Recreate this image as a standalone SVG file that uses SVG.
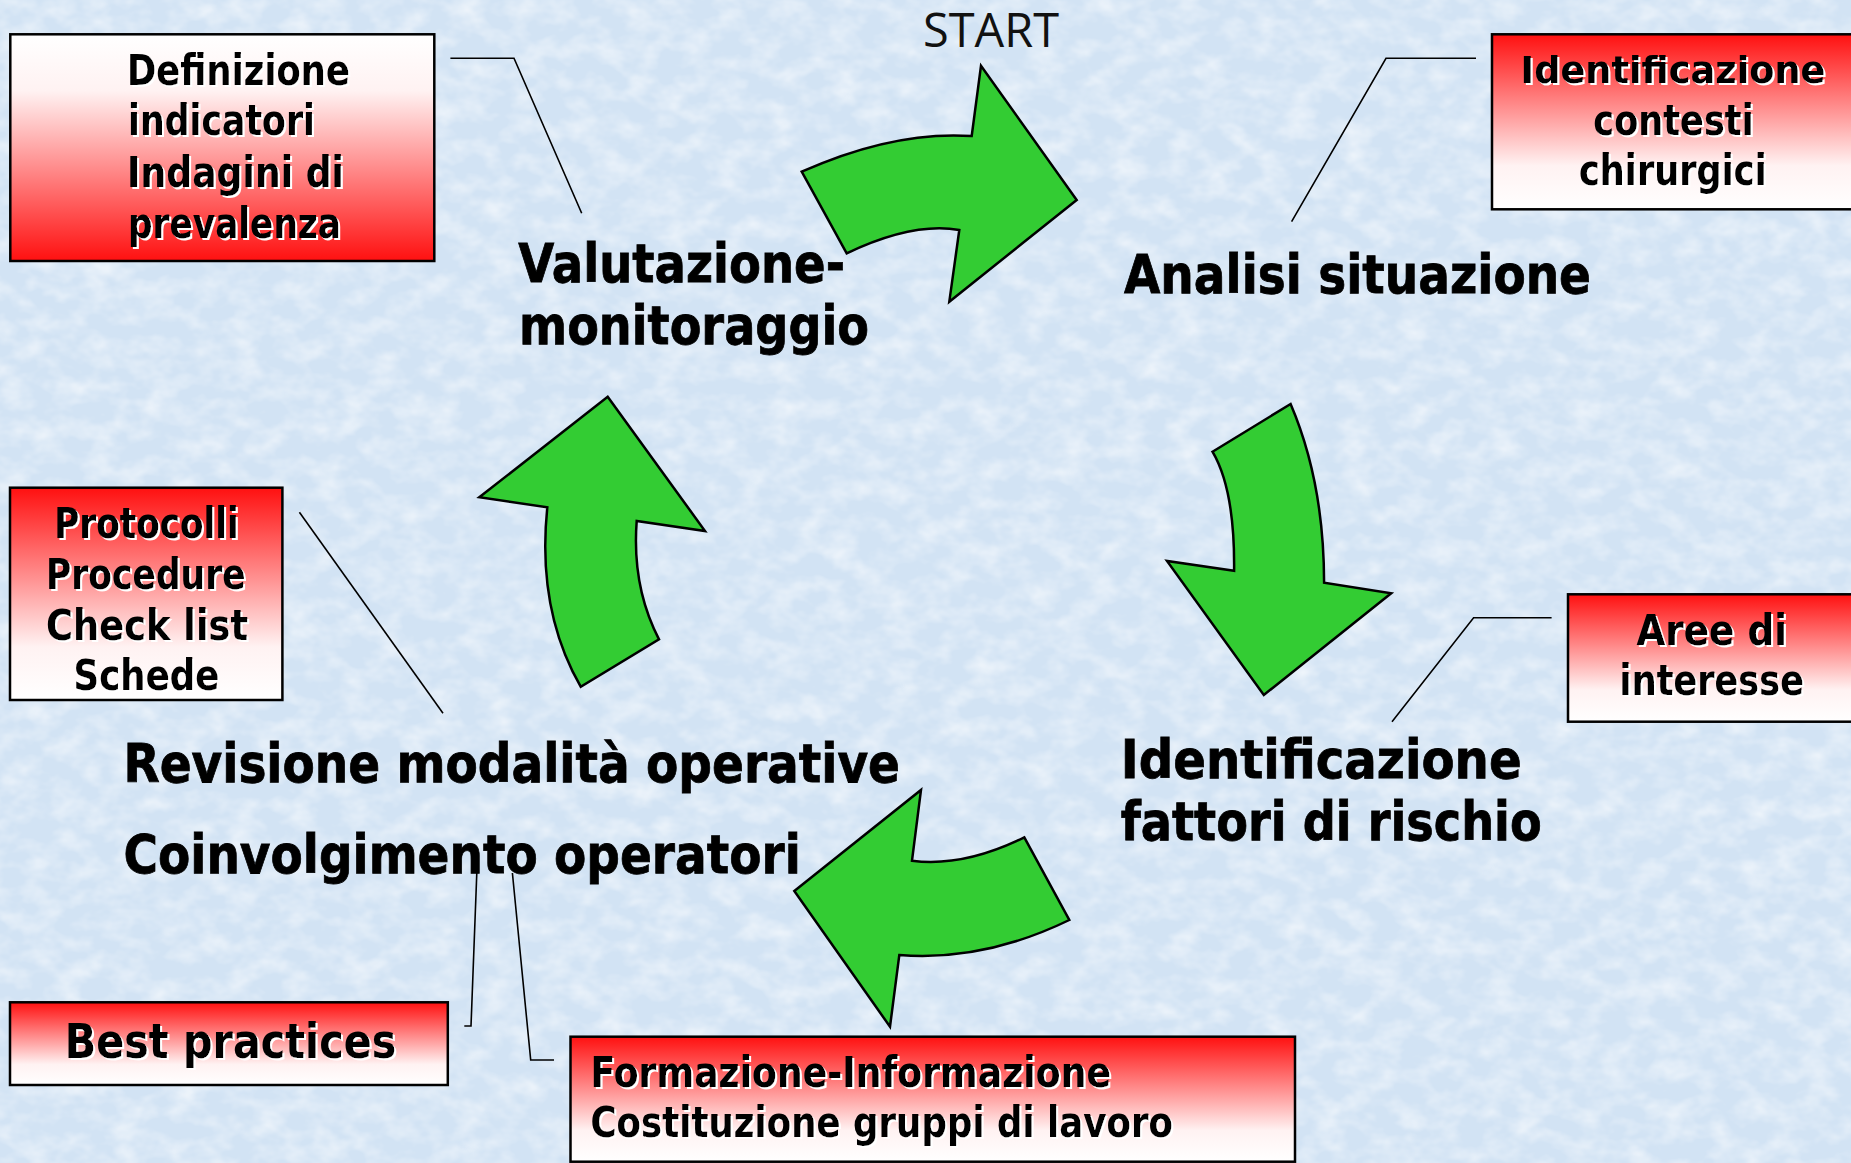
<svg xmlns="http://www.w3.org/2000/svg" width="1851" height="1163" viewBox="0 0 1851 1163">
<defs>
<linearGradient id="gWR" x1="0" y1="0" x2="0" y2="1"><stop offset="0" stop-color="#ffffff"/><stop offset="0.25" stop-color="#fff2f2"/><stop offset="1" stop-color="#ff1010"/></linearGradient>
<linearGradient id="gRW" x1="0" y1="0" x2="0" y2="1"><stop offset="0" stop-color="#ff1010"/><stop offset="0.75" stop-color="#fff2f2"/><stop offset="1" stop-color="#ffffff"/></linearGradient>
<filter id="marble" x="0" y="0" width="100%" height="100%">
<feTurbulence type="fractalNoise" baseFrequency="0.035 0.05" numOctaves="3" seed="7"/>
<feColorMatrix type="matrix" values="0 0 0 0 1  0 0 0 0 1  0 0 0 0 1  1.1 0 0 0 -0.42"/>
</filter>
<filter id="halo" x="-5%" y="-20%" width="110%" height="140%">
<feDropShadow dx="2" dy="2" stdDeviation="0.4" flood-color="#ffffff" flood-opacity="1"/>
</filter>
<style>
.box{stroke:#000;stroke-width:2.5}
.bt{font-family:"DejaVu Sans",sans-serif;font-weight:bold;font-size:43px;fill:#000;filter:url(#halo)}
.lbl{font-family:"DejaVu Sans",sans-serif;font-weight:bold;font-size:53px;fill:#000;stroke:#000;stroke-width:0.8}
.arrow{fill:#33cc33;stroke:#000;stroke-width:2.5;stroke-linejoin:miter}
.conn{fill:none;stroke:#000;stroke-width:1.6}
</style>
</defs>
<rect x="0" y="0" width="1851" height="1163" fill="#d2e3f4"/>
<rect x="0" y="0" width="1851" height="1163" filter="url(#marble)"/>

<g id="connectors">
<polyline class="conn" points="450.4,58.3 514,58.3 581.7,213.3"/>
<polyline class="conn" points="1476,58.3 1386,58.3 1291.6,221.7"/>
<polyline class="conn" points="299.4,512.3 443,713.3"/>
<polyline class="conn" points="1551.6,617.7 1473.6,617.7 1392,721.7"/>
<polyline class="conn" points="476.8,873 471,1026 464.3,1026"/>
<polyline class="conn" points="512.4,873 530.7,1060 554,1060"/>
</g>

<g id="arrows">
<path id="arrow-top" class="arrow" d="M 801.7,171.7 Q 893.3,130.7 971.7,136 L 981,65.7 L 1076.7,200 L 949.3,301.7 L 959.3,230 Q 913.3,221.7 846.7,253.3 Z"/>
<path id="arrow-right" class="arrow" d="M 1212.5,451.7 L 1290.6,404 Q 1324,482 1324.1,582.7 L 1391.2,593.3 L 1263.8,695 L 1167,561 L 1234.1,570.7 Q 1235,490 1212.5,451.7 Z"/>
<path id="arrow-bottom" class="arrow" d="M 1024.3,837.3 L 1069.3,920 Q 983.3,961.7 899.3,955 L 890,1026.7 L 794.3,891 L 921,790 L 912,860.7 Q 963.3,867.3 1024.3,837.3 Z"/>
<path id="arrow-left" class="arrow" d="M 607.7,396.7 L 705,531 L 636.7,521 Q 631.7,586.7 659,639.3 L 580.7,686.7 Q 536.7,610 547.3,507.3 L 479.3,497.3 Z"/>
</g>

<g id="start">
<text x="923" y="47" font-family="Open Sans, sans-serif" font-size="47" fill="#111" textLength="136" lengthAdjust="spacingAndGlyphs">START</text>
</g>

<g id="step-valutazione">
<text class="lbl" x="518.3" y="281.7" textLength="326.7" lengthAdjust="spacingAndGlyphs">Valutazione-</text>
<text class="lbl" x="519" y="344" textLength="350" lengthAdjust="spacingAndGlyphs">monitoraggio</text>
</g>
<g id="step-analisi">
<text class="lbl" x="1124" y="293" textLength="467" lengthAdjust="spacingAndGlyphs">Analisi situazione</text>
</g>
<g id="step-identificazione">
<text class="lbl" x="1120.7" y="778.3" textLength="401" lengthAdjust="spacingAndGlyphs">Identificazione</text>
<text class="lbl" x="1120.7" y="840" textLength="421" lengthAdjust="spacingAndGlyphs">fattori di rischio</text>
</g>
<g id="step-revisione">
<text class="lbl" x="123.5" y="781.7" textLength="776.5" lengthAdjust="spacingAndGlyphs">Revisione modalità operative</text>
<text class="lbl" x="123.5" y="873.3" textLength="677.3" lengthAdjust="spacingAndGlyphs">Coinvolgimento operatori</text>
</g>

<g id="box-definizione">
<rect class="box" x="10.3" y="34.3" width="424" height="226.7" fill="url(#gWR)"/>
<text class="bt" x="127" y="85" textLength="223" lengthAdjust="spacingAndGlyphs">Definizione</text>
<text class="bt" x="128" y="135" textLength="187" lengthAdjust="spacingAndGlyphs">indicatori</text>
<text class="bt" x="127" y="187" textLength="217" lengthAdjust="spacingAndGlyphs">Indagini di</text>
<text class="bt" x="128" y="238" textLength="213" lengthAdjust="spacingAndGlyphs">prevalenza</text>
</g>
<g id="box-contesti">
<rect class="box" x="1492" y="34.3" width="361" height="175" fill="url(#gRW)"/>
<text class="bt" x="1520.5" y="83" style="font-size:38px" textLength="305" lengthAdjust="spacingAndGlyphs">Identificazione</text>
<text class="bt" x="1593.3" y="135" textLength="160.4" lengthAdjust="spacingAndGlyphs">contesti</text>
<text class="bt" x="1579" y="185" textLength="187.7" lengthAdjust="spacingAndGlyphs">chirurgici</text>
</g>
<g id="box-protocolli">
<rect class="box" x="10" y="487.7" width="272.4" height="212.3" fill="url(#gRW)"/>
<text class="bt" x="54.2" y="538" textLength="184.6" lengthAdjust="spacingAndGlyphs">Protocolli</text>
<text class="bt" x="46" y="589" textLength="199.6" lengthAdjust="spacingAndGlyphs">Procedure</text>
<text class="bt" x="46" y="640" textLength="202" lengthAdjust="spacingAndGlyphs">Check list</text>
<text class="bt" x="73.5" y="690" textLength="146" lengthAdjust="spacingAndGlyphs">Schede</text>
</g>
<g id="box-aree">
<rect class="box" x="1568" y="594.3" width="285" height="127.4" fill="url(#gRW)"/>
<text class="bt" x="1636.4" y="645" textLength="150.6" lengthAdjust="spacingAndGlyphs">Aree di</text>
<text class="bt" x="1619.6" y="695" textLength="184.4" lengthAdjust="spacingAndGlyphs">interesse</text>
</g>
<g id="box-best">
<rect class="box" x="10" y="1002.3" width="437.8" height="82.7" fill="url(#gRW)"/>
<text class="bt" x="64.7" y="1058" style="font-size:48px" textLength="331.7" lengthAdjust="spacingAndGlyphs">Best practices</text>
</g>
<g id="box-formazione">
<rect class="box" x="570.5" y="1036.7" width="724.5" height="125" fill="url(#gRW)"/>
<text class="bt" x="590.4" y="1086.7" textLength="520.6" lengthAdjust="spacingAndGlyphs">Formazione-Informazione</text>
<text class="bt" x="590.4" y="1136.7" textLength="582.6" lengthAdjust="spacingAndGlyphs">Costituzione gruppi di lavoro</text>
</g>
</svg>
